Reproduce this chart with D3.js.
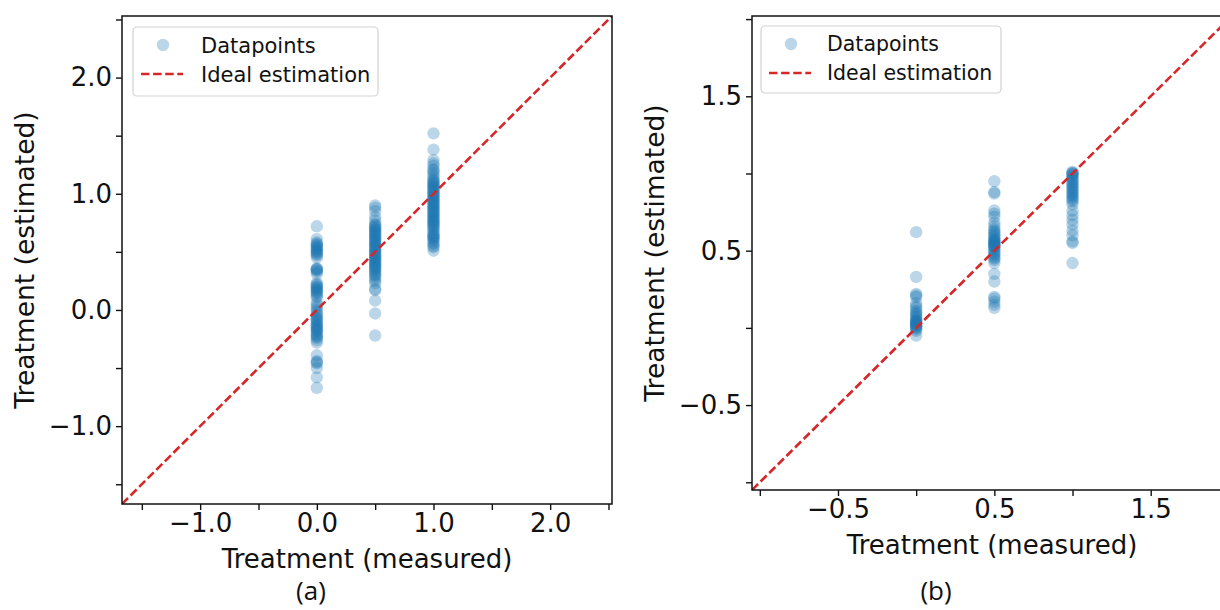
<!DOCTYPE html>
<html>
<head>
<meta charset="utf-8">
<script src="https://cdn.jsdelivr.net/npm/d3@7"></script>
<style>
  html, body { margin: 0; padding: 0; background: #fff; }
  svg { display: block; }
  text { font-family: "DejaVu Sans", sans-serif; fill: #111; }
</style>
</head>
<body>
<svg id="chart" width="1220" height="610"></svg>
<script>
// ---------- data ----------
const measuredLevels = [0.0, 0.5, 1.0];

// Panel (a): estimated values per measured level
const aEst0 = [0.72, 0.61, 0.58, 0.57, 0.56, 0.55, 0.54, 0.53, 0.52, 0.51, 0.50, 0.49, 0.48, 0.47, 0.45,
  0.36, 0.35, 0.35, 0.34, 0.33, 0.31,
  0.23, 0.22, 0.21, 0.20, 0.19, 0.18, 0.17, 0.16, 0.15, 0.14, 0.12, 0.11, 0.06, 0.04, 0.02, 0.00, -0.02,
  -0.04, -0.05, -0.07, -0.08, -0.09, -0.10, -0.12, -0.13, -0.14, -0.15, -0.16, -0.17, -0.18, -0.19,
  -0.21, -0.22, -0.23, -0.24, -0.26, -0.28,
  -0.39, -0.44, -0.45, -0.46, -0.50, -0.58, -0.67];
const aEst05 = [0.90, 0.88, 0.85, 0.80, 0.77, 0.74, 0.73, 0.72, 0.71, 0.70, 0.69, 0.68, 0.67, 0.66, 0.65,
  0.64, 0.63, 0.62, 0.61, 0.60, 0.59, 0.58, 0.57, 0.56, 0.55, 0.54, 0.53, 0.52, 0.51, 0.50, 0.49, 0.48,
  0.47, 0.46, 0.45, 0.44, 0.43, 0.42, 0.41, 0.40, 0.39, 0.38, 0.37, 0.36, 0.35, 0.34, 0.33, 0.31, 0.30,
  0.29, 0.27, 0.25, 0.23, 0.18, 0.17, 0.08, -0.03, -0.22];
const aEst1 = [1.52, 1.38, 1.29, 1.26, 1.24, 1.21, 1.20, 1.18, 1.16, 1.14, 1.12, 1.11, 1.10, 1.09, 1.08,
  1.07, 1.06, 1.05, 1.04, 1.03, 1.02, 1.01, 1.00, 0.99, 0.98, 0.97, 0.96, 0.95, 0.94, 0.93, 0.92, 0.91,
  0.90, 0.89, 0.88, 0.87, 0.86, 0.85, 0.84, 0.83, 0.82, 0.81, 0.80, 0.79, 0.78, 0.77, 0.76, 0.75, 0.74,
  0.73, 0.72, 0.71, 0.69, 0.68, 0.66, 0.65, 0.64, 0.63, 0.62, 0.61, 0.60, 0.58, 0.57, 0.55, 0.54, 0.51];

// Panel (b)
const bEst0 = [0.62, 0.33, 0.22, 0.21, 0.20, 0.16, 0.14, 0.13, 0.11, 0.10, 0.09, 0.08, 0.07, 0.06, 0.05,
  0.045, 0.04, 0.035, 0.03, 0.025, 0.02, 0.015, 0.01, 0.005, 0.00, -0.01, -0.02, -0.05];
const bEst05 = [0.95, 0.88, 0.87, 0.76, 0.74, 0.72, 0.68, 0.66, 0.64, 0.63, 0.62, 0.61, 0.60, 0.59, 0.58,
  0.57, 0.565, 0.56, 0.555, 0.55, 0.545, 0.54, 0.535, 0.53, 0.525, 0.52, 0.51, 0.50, 0.49, 0.48, 0.47,
  0.46, 0.45, 0.44, 0.42, 0.35, 0.30, 0.20, 0.19, 0.17, 0.15, 0.13];
const bEst1 = [1.01, 1.005, 1.00, 0.995, 0.99, 0.98, 0.97, 0.96, 0.95, 0.94, 0.93, 0.92, 0.91, 0.90,
  0.89, 0.88, 0.87, 0.86, 0.85, 0.84, 0.83, 0.82, 0.80, 0.76, 0.73, 0.70, 0.67, 0.63, 0.60, 0.56, 0.55,
  0.42];

const aDomain = [-1.67, 2.53];
const bDomain = [-1.05, 2.02];
const aTicks = [-1.5, -1.0, -0.5, 0.0, 0.5, 1.0, 1.5, 2.0, 2.5];
const aTickLabels = [-1.0, 0.0, 1.0, 2.0];
const bTicks = [-1.0, -0.5, 0.0, 0.5, 1.0, 1.5, 2.0];
const bTickLabels = [-0.5, 0.5, 1.5];

const legendLabels = ["Datapoints", "Ideal estimation"];
const xTitle = "Treatment (measured)";
const yTitle = "Treatment (estimated)";
const captions = ["(a)", "(b)"];

// ---------- drawing ----------
const svg = d3.select("#chart");
const BLUE = "#1f77b4", RED = "#d62728";
const fmtA = d => d3.format(".1f")(d).replace("-", "\u2212");

function toPoints(lists) {
  const pts = [];
  lists.forEach((arr, i) => arr.forEach(v => pts.push({ x: measuredLevels[i], y: v })));
  return pts;
}

function panel(cfg) {
  const g = svg.append("g");
  const x = d3.scaleLinear().domain(cfg.domain).range([cfg.left, cfg.right]);
  const y = d3.scaleLinear().domain(cfg.domain).range([cfg.bottom, cfg.top]);

  const clipId = "clip" + cfg.id;
  svg.append("clipPath").attr("id", clipId).append("rect")
    .attr("x", cfg.left).attr("y", cfg.top)
    .attr("width", cfg.right - cfg.left).attr("height", cfg.bottom - cfg.top);

  const plot = g.append("g").attr("clip-path", `url(#${clipId})`);

  plot.selectAll("circle.pt").data(toPoints(cfg.data)).join("circle")
    .attr("class", "pt")
    .attr("cx", d => x(d.x)).attr("cy", d => y(d.y)).attr("r", 6.2)
    .attr("fill", BLUE).attr("fill-opacity", 0.3);

  plot.append("line")
    .attr("x1", x(cfg.domain[0])).attr("y1", y(cfg.domain[0]))
    .attr("x2", x(cfg.domain[1])).attr("y2", y(cfg.domain[1]))
    .attr("stroke", RED).attr("stroke-width", 2.6).attr("stroke-dasharray", "8.5,3.6");

  const xAxis = d3.axisBottom(x).tickValues(cfg.ticks).tickSize(6).tickPadding(4)
    .tickFormat(d => cfg.labels.includes(d) ? fmtA(d) : "");
  const yAxis = d3.axisLeft(y).tickValues(cfg.ticks).tickSize(6).tickPadding(4)
    .tickFormat(d => cfg.labels.includes(d) ? fmtA(d) : "");

  const gx = g.append("g").attr("transform", `translate(0,${cfg.bottom})`).call(xAxis);
  const gy = g.append("g").attr("transform", `translate(${cfg.left},0)`).call(yAxis);
  [gx, gy].forEach(a => {
    a.select(".domain").remove();
    a.selectAll(".tick line").attr("stroke", "#111").attr("stroke-width", 1.4);
    a.selectAll(".tick text").attr("font-size", cfg.tickFont).attr("fill", "#111")
      .style("font-family", "DejaVu Sans");
  });
  gx.selectAll(".tick").filter(d => d > cfg.domain[1] + 1e-9).remove();

  g.append("rect").attr("x", cfg.left).attr("y", cfg.top)
    .attr("width", cfg.right - cfg.left).attr("height", cfg.bottom - cfg.top)
    .attr("fill", "none").attr("stroke", "#111").attr("stroke-width", 1.5);

  g.append("text").attr("x", (cfg.left + cfg.right) / 2).attr("y", cfg.xTitleY)
    .attr("text-anchor", "middle").attr("font-size", cfg.titleFont).text(xTitle);
  g.append("text")
    .attr("transform", `translate(${cfg.yTitleX},${(cfg.top + cfg.bottom) / 2}) rotate(-90)`)
    .attr("text-anchor", "middle").attr("font-size", cfg.yTitleFont).text(yTitle);

  const L = cfg.legend;
  const lg = g.append("g");
  lg.append("rect").attr("x", L.x).attr("y", L.y).attr("width", L.w).attr("height", L.h)
    .attr("rx", 4).attr("fill", "#fff").attr("fill-opacity", 0.8)
    .attr("stroke", "#d3d3d3").attr("stroke-width", 1.2);
  lg.append("circle").attr("cx", L.x + 30).attr("cy", L.y + 18).attr("r", 6.2)
    .attr("fill", BLUE).attr("fill-opacity", 0.3);
  lg.append("line").attr("x1", L.x + 8).attr("x2", L.x + 50)
    .attr("y1", L.y + 47).attr("y2", L.y + 47)
    .attr("stroke", RED).attr("stroke-width", 2.6).attr("stroke-dasharray", "8.5,3.6");
  legendLabels.forEach((t, i) => {
    lg.append("text").attr("x", L.x + L.tx).attr("y", L.y + 18 + i * 29)
      .attr("dy", "0.36em").attr("font-size", L.font).text(t);
  });

  svg.append("text").attr("x", cfg.capX).attr("y", cfg.capY)
    .attr("text-anchor", "middle").attr("font-size", 26)
    .style("font-family", "'Open Sans', sans-serif").text(cfg.caption);
}

panel({
  id: "a", domain: aDomain, left: 122, right: 612, top: 16, bottom: 504,
  data: [aEst0, aEst05, aEst1], ticks: aTicks, labels: aTickLabels,
  tickFont: 26, titleFont: 26, yTitleFont: 26.5, xTitleY: 568, yTitleX: 34,
  legend: { x: 133, y: 27, w: 245, h: 69, tx: 68, font: 21 },
  capX: 311, capY: 600, caption: captions[0]
});

panel({
  id: "b", domain: bDomain, left: 752, right: 1232, top: 16, bottom: 490,
  data: [bEst0, bEst05, bEst1], ticks: bTicks, labels: bTickLabels,
  tickFont: 26, titleFont: 26, yTitleFont: 26.5, xTitleY: 554, yTitleX: 664,
  legend: { x: 761, y: 26, w: 240, h: 67, tx: 66, font: 20.5 },
  capX: 936, capY: 600, caption: captions[1]
});
</script>
</body>
</html>
